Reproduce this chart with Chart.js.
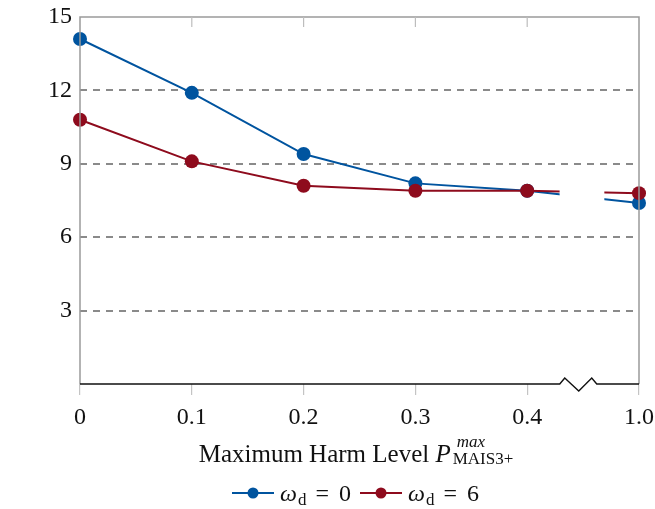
<!DOCTYPE html>
<html>
<head>
<meta charset="utf-8">
<script src="https://cdn.jsdelivr.net/npm/chart.js@4/dist/chart.umd.min.js"></script>
<style>
  html, body { margin: 0; padding: 0; background: #fff; }
  #wrap { width: 655px; height: 509px; }
</style>
</head>
<body>
<div id="wrap"><canvas id="c" width="655" height="509"></canvas></div>
<script>
// Harm level thresholds (x axis is broken between 0.4 and 1.0)
const harmLevels = ['0', '0.1', '0.2', '0.3', '0.4', '1.0'];
// Travel time in seconds for each weighting
const travelW0 = [14.1, 11.9, 9.4, 8.2, 7.9, 7.4];
const travelW6 = [10.8, 9.1, 8.1, 7.9, 7.9, 7.8];
// Y axis ticks
const yTicks = [0, 3, 6, 9, 12, 15];

const BLUE = '#00549f';
const RED = '#8e0b1d';
const SERIF = '"Liberation Serif", "DejaVu Serif", serif';

// Axis-break region, in category-index units on the x scale
const BREAK_FROM = 4.29, BREAK_TO = 4.69;

const frame = {
  id: 'frame',
  beforeDatasetsDraw(chart) {
    const {ctx, chartArea: a, scales: {x}} = chart;
    const g0 = x.getPixelForValue(BREAK_FROM), g1 = x.getPixelForValue(BREAK_TO);
    ctx.save();
    ctx.beginPath();
    ctx.rect(0, 0, chart.width, chart.height);
    ctx.rect(g0, a.top - 20, g1 - g0, a.bottom - a.top + 40);
    ctx.clip('evenodd');
  },
  afterDatasetsDraw(chart) {
    chart.ctx.restore();
  },
  afterDraw(chart) {
    const {ctx, chartArea: a, scales: {x}} = chart;
    ctx.save();
    // gray left / top / right frame
    ctx.strokeStyle = '#9a9a9a';
    ctx.lineWidth = 1.5;
    ctx.beginPath();
    ctx.moveTo(a.left, a.bottom);
    ctx.lineTo(a.left, a.top);
    ctx.lineTo(a.right, a.top);
    ctx.lineTo(a.right, a.bottom);
    ctx.stroke();
    // inward ticks on the top edge
    ctx.strokeStyle = '#bdbdbd';
    ctx.lineWidth = 1.2;
    ctx.beginPath();
    for (let i = 1; i < x.ticks.length - 1; i++) {
      const px = x.getPixelForTick(i);
      ctx.moveTo(px, a.top);
      ctx.lineTo(px, a.top + 10);
    }
    ctx.stroke();
    // black bottom axis with zig-zag break mark
    const mid = x.getPixelForValue((BREAK_FROM + BREAK_TO) / 2 - 0.02);
    const y0 = a.bottom;
    ctx.strokeStyle = '#111';
    ctx.lineWidth = 1.4;
    ctx.beginPath();
    ctx.moveTo(a.left, y0);
    ctx.lineTo(mid - 20, y0);
    ctx.lineTo(mid - 15, y0 - 6);
    ctx.lineTo(mid - 1, y0 + 7);
    ctx.lineTo(mid + 12, y0 - 6);
    ctx.lineTo(mid + 17, y0);
    ctx.lineTo(a.right, y0);
    ctx.stroke();

    // x axis title: Maximum Harm Level P^max_MAIS3+
    const base = 462;
    const mainF = '25px ' + SERIF, pF = 'italic 25px ' + SERIF;
    const supF = 'italic 17px ' + SERIF, subF = '17px ' + SERIF;
    ctx.fillStyle = '#111';
    ctx.textBaseline = 'alphabetic';
    ctx.textAlign = 'left';
    ctx.font = mainF; const w1 = ctx.measureText('Maximum Harm Level ').width;
    ctx.font = pF; const w2 = ctx.measureText('P').width;
    ctx.font = supF; const wSup = ctx.measureText('max').width;
    ctx.font = subF; const wSub = ctx.measureText('MAIS3+').width;
    const total = w1 + w2 + 2 + Math.max(wSup + 4, wSub);
    let cx = 356 - total / 2;
    ctx.font = mainF; ctx.fillText('Maximum Harm Level ', cx, base); cx += w1;
    ctx.font = pF; ctx.fillText('P', cx, base); cx += w2 + 2;
    ctx.font = supF; ctx.fillText('max', cx + 4, base - 15);
    ctx.font = subF; ctx.fillText('MAIS3+', cx, base + 2);

    // legend
    const ly = 493;
    const entries = [
      {color: BLUE, x: 232, label: '0'},
      {color: RED, x: 360, label: '6'}
    ];
    entries.forEach(e => {
      ctx.strokeStyle = e.color;
      ctx.lineWidth = 2;
      ctx.beginPath();
      ctx.moveTo(e.x, ly);
      ctx.lineTo(e.x + 42, ly);
      ctx.stroke();
      ctx.fillStyle = e.color;
      ctx.beginPath();
      ctx.arc(e.x + 21, ly, 5.5, 0, Math.PI * 2);
      ctx.fill();
      ctx.fillStyle = '#111';
      let tx = e.x + 48;
      const bl = ly + 8;
      ctx.font = 'italic 24px ' + SERIF;
      ctx.fillText('ω', tx, bl); tx += ctx.measureText('ω').width + 1;
      ctx.font = '17px ' + SERIF;
      ctx.fillText('d', tx, bl + 4); tx += ctx.measureText('d').width + 9;
      ctx.font = '24px ' + SERIF;
      ctx.fillText('=', tx, bl); tx += ctx.measureText('=').width + 10;
      ctx.fillText(e.label, tx, bl);
    });
    ctx.restore();
  }
};

new Chart(document.getElementById('c'), {
  type: 'line',
  data: {
    labels: harmLevels,
    datasets: [
      {
        label: 'ω_d = 0', data: travelW0, borderColor: BLUE, backgroundColor: BLUE,
        borderWidth: 2, pointRadius: 7, pointHoverRadius: 7, pointBorderWidth: 0,
        tension: 0, order: 1
      },
      {
        label: 'ω_d = 6', data: travelW6, borderColor: RED, backgroundColor: RED,
        borderWidth: 2, pointRadius: 7, pointHoverRadius: 7, pointBorderWidth: 0,
        tension: 0, order: 0
      }
    ]
  },
  options: {
    responsive: false,
    animation: false,
    events: [],
    layout: {padding: {top: 17, right: 16, left: 0, bottom: 0}},
    plugins: {legend: {display: false}, tooltip: {enabled: false}},
    scales: {
      x: {
        type: 'category',
        offset: false,
        afterFit: s => { s.height = 125; s.paddingLeft = 0; s.paddingRight = 0; },
        grid: {drawOnChartArea: false, drawTicks: true, tickLength: 11, color: '#c4c4c4', lineWidth: 1.2, offset: false},
        border: {display: false},
        ticks: {color: '#111', font: {family: SERIF, size: 24}, padding: 8, maxRotation: 0, autoSkip: false}
      },
      y: {
        min: 0, max: 15,
        afterFit: s => { s.width = 80; s.paddingTop = 0; s.paddingBottom = 0; },
        afterBuildTicks: s => { s.ticks = yTicks.map(v => ({value: v})); },
        grid: {
          drawTicks: false,
          lineWidth: 2,
          color: ctx => (ctx.tick && (ctx.tick.value === 0 || ctx.tick.value === 15)) ? 'rgba(0,0,0,0)' : '#8a8a8a'
        },
        border: {display: false, dash: [7, 6]},
        ticks: {
          color: '#111', font: {family: SERIF, size: 24}, padding: 8,
          callback: v => v === 0 ? '' : String(v)
        }
      }
    }
  },
  plugins: [frame]
});
</script>
</body>
</html>
